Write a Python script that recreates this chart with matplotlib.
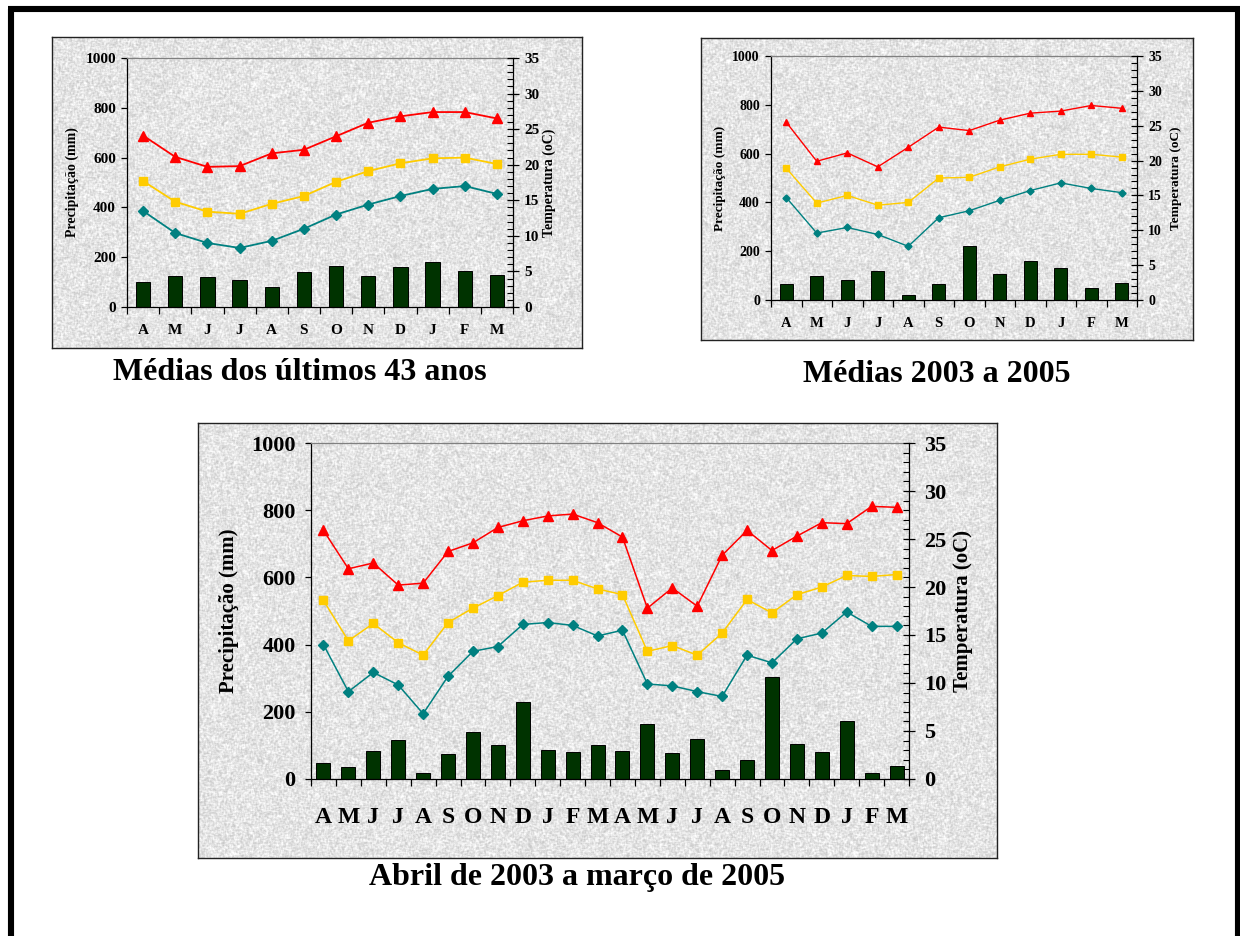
import numpy as np
import matplotlib
matplotlib.use("Agg")
import matplotlib.pyplot as plt
from matplotlib.lines import Line2D
from matplotlib.ticker import MultipleLocator, FixedLocator

plt.rcParams["font.family"] = ["Liberation Serif", "DejaVu Serif"]
plt.rcParams["font.weight"] = "bold"

W, H = 1240, 936

months_12 = ["A", "M", "J", "J", "A", "S", "O", "N", "D", "J", "F", "M"]
months_24 = months_12 + months_12

# long-term averages (43 years)
rain_43 = [99, 126, 119, 107, 82, 142, 166, 126, 159, 179, 146, 130]
tmax_43 = [24.1, 21.1, 19.7, 19.8, 21.6, 22.1, 24.0, 25.9, 26.8, 27.4, 27.4, 26.5]
tmed_43 = [17.7, 14.8, 13.4, 13.1, 14.5, 15.6, 17.6, 19.1, 20.2, 20.9, 21.0, 20.1]
tmin_43 = [13.5, 10.4, 9.0, 8.3, 9.3, 11.0, 13.0, 14.4, 15.6, 16.6, 17.0, 15.9]

# averages 2003-2005
rain_0305 = [67, 100, 83, 120, 20, 67, 222, 105, 160, 131, 49, 71]
tmax_0305 = [25.5, 19.9, 21.1, 19.1, 21.9, 24.8, 24.3, 25.8, 26.8, 27.1, 27.9, 27.5]
tmed_0305 = [18.9, 13.9, 15.0, 13.6, 14.0, 17.5, 17.6, 19.1, 20.2, 20.9, 20.9, 20.5]
tmin_0305 = [14.7, 9.6, 10.4, 9.4, 7.7, 11.8, 12.8, 14.3, 15.7, 16.8, 16.0, 15.4]

# monthly, April 2003 - March 2005
rain_mon = [49, 37, 84, 117, 17, 74, 140, 101, 230, 87, 81, 101,
            84, 163, 78, 120, 26, 58, 303, 104, 81, 173, 17, 39]
tmax_mon = [25.9, 21.9, 22.5, 20.2, 20.4, 23.7, 24.6, 26.2, 26.9, 27.4, 27.6, 26.7,
            25.2, 17.8, 19.9, 18.0, 23.3, 25.9, 23.8, 25.3, 26.7, 26.6, 28.4, 28.3]
tmed_mon = [18.6, 14.4, 16.2, 14.2, 12.9, 16.3, 17.8, 19.1, 20.5, 20.7, 20.7, 19.8,
            19.2, 13.3, 13.9, 12.9, 15.2, 18.7, 17.3, 19.2, 20.0, 21.2, 21.1, 21.3]
tmin_mon = [14.0, 9.1, 11.1, 9.8, 6.8, 10.7, 13.3, 13.8, 16.1, 16.3, 16.0, 14.9,
            15.5, 9.9, 9.7, 9.1, 8.6, 12.9, 12.1, 14.6, 15.2, 17.4, 15.9, 15.9]

titles = ["Médias dos últimos 43 anos", "Médias 2003 a 2005",
          "Abril de 2003 a março de 2005"]


def rect(x0, y0, x1, y1):
    return [x0 / W, 1 - y1 / H, (x1 - x0) / W, (y1 - y0) / H]


def granite(h, w, seed):
    rng = np.random.default_rng(seed)
    n = rng.random((h, w))
    # soften the speckle a bit
    k = n.copy()
    for dy, dx in [(0, 1), (1, 0), (0, -1), (-1, 0)]:
        k += 0.4 * np.roll(np.roll(n, dy, 0), dx, 1)
    k = (k - k.mean()) / k.std()
    return np.clip(0.895 + 0.04 * k, 0.65, 1.0)


fig = plt.figure(figsize=(W / 100, H / 100), dpi=100)
fig.patch.set_facecolor("white")

# outer frame (open at the bottom)
for xs, ys in [([10.5, 10.5], [9, H]), ([8, 1240], [9, 9]), ([1237.5, 1237.5], [9, H])]:
    fig.add_artist(Line2D([x / W for x in xs], [1 - y / H for y in ys],
                          color="black", lw=4.4, solid_capstyle="butt"))


def panel(box, plot, rain, tmax, tmed, tmin, labels, sizes, seed):
    (tick_fs, month_fs, lab_fs, ms, lw, bar_w,
     month_pad, left_pad, right_pad, ylab_x, tlab_x) = sizes
    bg = fig.add_axes(rect(*box))
    bh = int(box[3] - box[1])
    bw = int(box[2] - box[0])
    bg.imshow(granite(bh, bw, seed), cmap="gray", vmin=0, vmax=1,
              aspect="auto", interpolation="nearest")
    bg.set_xticks([])
    bg.set_yticks([])
    for s in bg.spines.values():
        s.set_color("#222222")
        s.set_linewidth(1.0)

    ax = fig.add_axes(rect(*plot))
    ax.patch.set_alpha(0)
    n = len(rain)
    x = np.arange(n)
    ax.bar(x, rain, width=bar_w, color="#003300", edgecolor="black", linewidth=0.7, zorder=2)
    ax.set_xlim(-0.5, n - 0.5)
    ax.set_ylim(0, 1000)
    ax.yaxis.set_major_locator(MultipleLocator(200))
    ax.tick_params(axis="y", direction="out", length=4, width=0.9, labelsize=tick_fs, pad=left_pad)
    ax.set_xticks(x)
    ax.set_xticklabels(labels)
    ax.xaxis.set_minor_locator(FixedLocator(np.arange(n + 1) - 0.5))
    ax.tick_params(axis="x", which="major", length=0, labelsize=month_fs, pad=month_pad)
    ax.tick_params(axis="x", which="minor", direction="out", length=5, width=0.9)
    for lab in ax.get_xticklabels() + ax.get_yticklabels():
        lab.set_fontweight("bold")
    ax.spines["top"].set_color("#808080")
    ax.spines["top"].set_linewidth(0.9)
    ax.spines["left"].set_linewidth(0.9)
    ax.spines["bottom"].set_linewidth(0.9)
    ax.spines["right"].set_visible(False)

    tx = ax.twinx()
    tx.set_ylim(0, 35)
    tx.yaxis.set_major_locator(MultipleLocator(5))
    tx.yaxis.set_minor_locator(MultipleLocator(1))
    tx.tick_params(axis="y", which="major", direction="inout", length=8, width=0.9,
                   labelsize=tick_fs, pad=right_pad)
    tx.tick_params(axis="y", which="minor", direction="in", length=4, width=0.8)
    for lab in tx.get_yticklabels():
        lab.set_fontweight("bold")
    for side in ["top", "left", "bottom"]:
        tx.spines[side].set_visible(False)
    tx.spines["right"].set_linewidth(0.9)

    tx.plot(x, tmax, color="#ff0000", lw=lw, marker="^", ms=ms, zorder=3)
    tx.plot(x, tmed, color="#ffcc00", lw=lw, marker="s", ms=ms * 0.85, zorder=3)
    tx.plot(x, tmin, color="#008080", lw=lw, marker="D", ms=ms * 0.75, zorder=3)

    yc = 1 - (plot[1] + plot[3]) / 2 / H
    fig.text(ylab_x / W, yc, "Precipitação (mm)", rotation=90, ha="center", va="center",
             fontsize=lab_fs, fontweight="bold")
    fig.text(tlab_x / W, yc, "Temperatura (oC)", rotation=90, ha="center", va="center",
             fontsize=lab_fs, fontweight="bold")


panel((52, 37, 582, 348), (127, 58, 513, 307), rain_43, tmax_43, tmed_43, tmin_43,
      months_12, (11, 11, 10, 6.8, 1.3, 0.45, 12, 4, 4, 72, 549), 1)
panel((701, 38, 1193, 340), (771, 56, 1137, 300), rain_0305, tmax_0305, tmed_0305, tmin_0305,
      months_12, (10, 10.5, 9.5, 4.8, 1.0, 0.44, 12, 4, 4, 720, 1176), 2)
panel((198, 423, 997, 858), (311, 443, 909, 779), rain_mon, tmax_mon, tmed_mon, tmin_mon,
      months_24, (16, 17, 15, 6.5, 1.1, 0.56, 20, 7, 7, 229, 963), 3)

fig.text(300 / W, 1 - 373 / H, titles[0], ha="center", va="center", fontsize=23, fontweight="bold")
fig.text(937 / W, 1 - 374 / H, titles[1], ha="center", va="center", fontsize=23, fontweight="bold")
fig.text(577 / W, 1 - 878 / H, titles[2], ha="center", va="center", fontsize=23, fontweight="bold")

fig.savefig("out.png", dpi=100)
